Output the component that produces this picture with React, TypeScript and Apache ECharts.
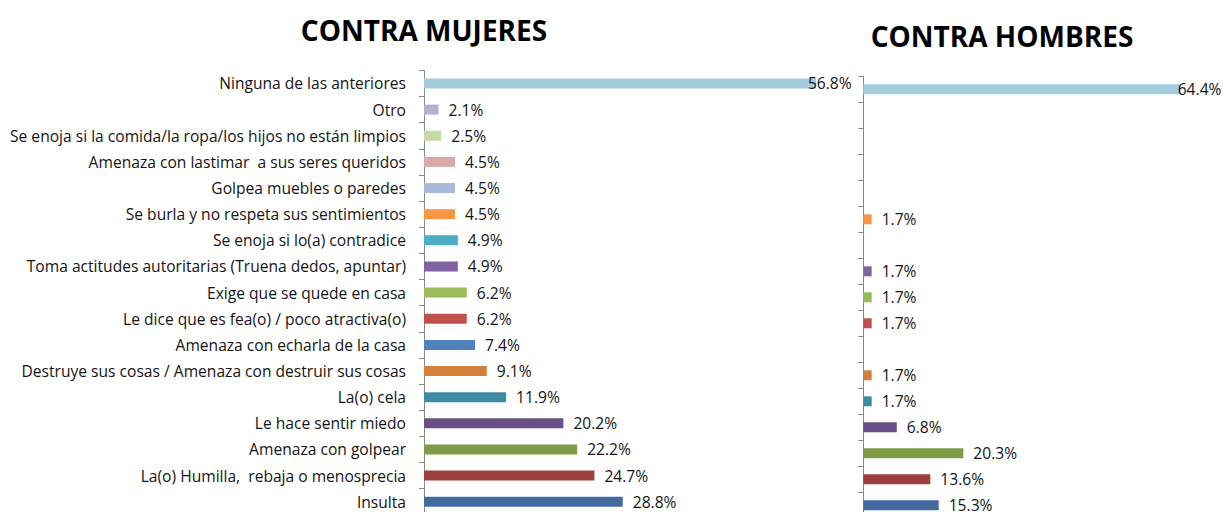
import React, { useEffect, useRef } from "react";
import * as echarts from "echarts";

const categories = [
  "Ninguna de las anteriores",
  "Otro",
  "Se enoja si la comida/la ropa/los hijos no están limpios",
  "Amenaza con lastimar  a sus seres queridos",
  "Golpea muebles o paredes",
  "Se burla y no respeta sus sentimientos",
  "Se enoja si lo(a) contradice",
  "Toma actitudes autoritarias (Truena dedos, apuntar)",
  "Exige que se quede en casa",
  "Le dice que es fea(o) / poco atractiva(o)",
  "Amenaza con echarla de la casa",
  "Destruye sus cosas / Amenaza con destruir sus cosas",
  "La(o) cela",
  "Le hace sentir miedo",
  "Amenaza con golpear",
  "La(o) Humilla,  rebaja o menosprecia",
  "Insulta",
];

const contraMujeres = [56.8, 2.1, 2.5, 4.5, 4.5, 4.5, 4.9, 4.9, 6.2, 6.2, 7.4, 9.1, 11.9, 20.2, 22.2, 24.7, 28.8];
const contraHombres = [64.4, null, null, null, null, 1.7, null, 1.7, 1.7, 1.7, null, 1.7, 1.7, 6.8, 20.3, 13.6, 15.3];

const barColors = [
  "#a5ccdc", "#b9aed0", "#c7daa5", "#dba9a8", "#a8badb", "#f79646",
  "#4bacc6", "#8064a2", "#9bbb59", "#c0504d", "#4f81bd", "#d3803b",
  "#3b8ca3", "#684f86", "#7f9b47", "#9d403d", "#416b9e",
];

const titles = ["CONTRA MUJERES", "CONTRA HOMBRES"];

const FONT = "'Open Sans', sans-serif";
const TEXT = "#141414";

function buildData(values: (number | null)[], firstDistance: number) {
  return values.map((v, i) => {
    const item: any = { value: v, itemStyle: { color: barColors[i] } };
    if (i === 0) item.label = { distance: firstDistance };
    return item;
  });
}

export default function App() {
  const ref = useRef<HTMLDivElement>(null);
  useEffect(() => {
    if (!ref.current) return;
    const chart = echarts.init(ref.current, null, { renderer: "svg" });
    const label = {
      show: true,
      position: "right",
      distance: 10,
      fontFamily: FONT,
      fontSize: 15.6,
      color: TEXT,
      formatter: (p: any) => (p.value == null ? "" : Number(p.value).toFixed(1) + "%"),
    };
    const yBase = {
      type: "category",
      data: categories,
      inverse: true,
      axisLine: { show: true, lineStyle: { color: "#8a8a8a", width: 1 } },
      axisTick: { show: true, length: 5, lineStyle: { color: "#8a8a8a" } },
      splitLine: { show: false },
    };
    chart.setOption({
      animation: false,
      graphic: [
        {
          type: "text",
          x: 424,
          y: 30,
          style: {
            text: titles[0],
            font: `bold 28px ${FONT}`,
            fill: "#000",
            textAlign: "center",
            textVerticalAlign: "middle",
          },
        },
        {
          type: "text",
          x: 1002,
          y: 36,
          style: {
            text: titles[1],
            font: `bold 28px ${FONT}`,
            fill: "#000",
            textAlign: "center",
            textVerticalAlign: "middle",
          },
        },
      ],
      grid: [
        { left: 424, top: 70.4, width: 414, height: 444.4, containLabel: false, outerBoundsMode: "none" },
        { left: 863.3, top: 76.3, width: 345, height: 442, containLabel: false, outerBoundsMode: "none" },
      ],
      xAxis: [
        { type: "value", gridIndex: 0, min: 0, max: 60, show: false },
        { type: "value", gridIndex: 1, min: 0, max: 70, show: false },
      ],
      yAxis: [
        {
          ...yBase,
          gridIndex: 0,
          axisLabel: { show: true, margin: 18, fontFamily: FONT, fontSize: 15.6, color: TEXT },
        },
        {
          ...yBase,
          gridIndex: 1,
          axisLabel: { show: false },
        },
      ],
      series: [
        {
          type: "bar",
          name: titles[0],
          xAxisIndex: 0,
          yAxisIndex: 0,
          barWidth: 10,
          data: buildData(contraMujeres, -8),
          label,
        },
        {
          type: "bar",
          name: titles[1],
          xAxisIndex: 1,
          yAxisIndex: 1,
          barWidth: 10,
          data: buildData(contraHombres, -3),
          label,
        },
      ],
    });
    return () => chart.dispose();
  }, []);
  return (
    <div
      ref={ref}
      style={{ position: "absolute", left: 0, top: 0, width: 1223, height: 512, background: "#fff" }}
    />
  );
}
